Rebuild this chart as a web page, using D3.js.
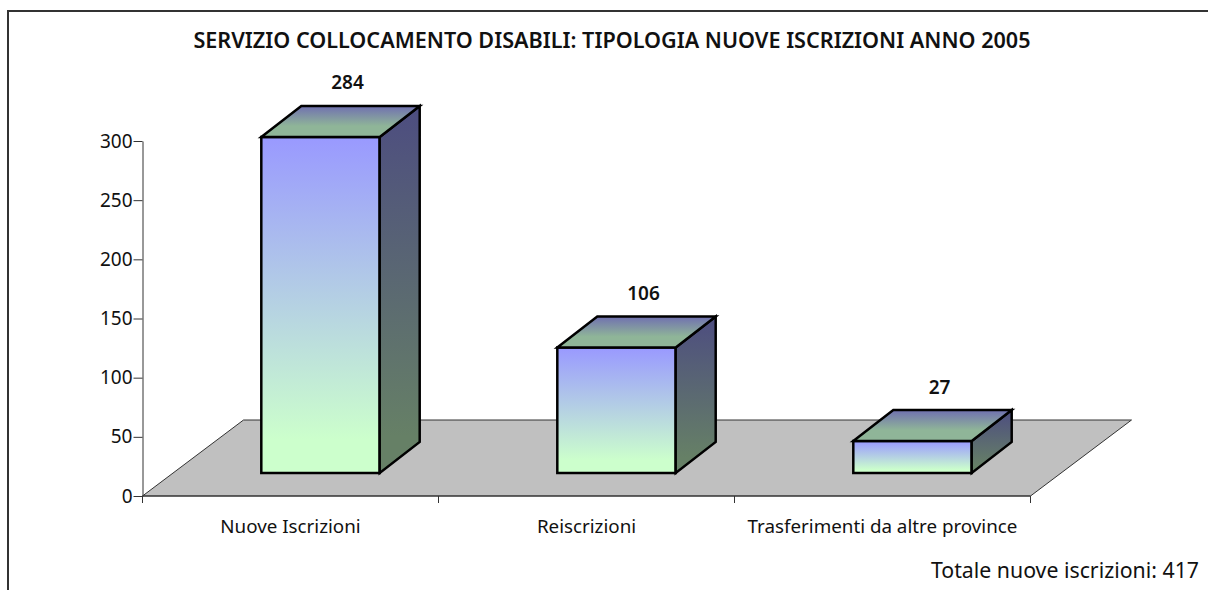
<!DOCTYPE html>
<html>
<head>
<meta charset="utf-8">
<script src="https://cdn.jsdelivr.net/npm/d3@7"></script>
<style>
    body { margin: 0; background: #fff; }
    svg { display: block; }
    text { font-family: "Noto Sans", sans-serif; fill: #111; }
    .axis path, .axis line { stroke: #333; }
</style>
</head>
<body>
<svg id="chart" width="1208" height="590"></svg>
<script>
const categories = ['Nuove Iscrizioni', 'Reiscrizioni', 'Trasferimenti da altre province'];
const values = [284, 106, 27];
const yTicks = [0, 50, 100, 150, 200, 250, 300];
const title = 'SERVIZIO COLLOCAMENTO DISABILI: TIPOLOGIA NUOVE ISCRIZIONI ANNO 2005';
const totalLabel = 'Totale nuove iscrizioni: 417';

const svg = d3.select('#chart');

// Plot box of the front edge of the floor
const plot = { left: 142.5, right: 1030.5, top: 141, bottom: 496 };
// Full depth of the floor, and how far the bars sit inside it
const floorDepth = { x: 101, y: -76 };
const barShift = { x: 30, y: -23 };
const barDepth = { x: 40, y: -31 };

const xScale = d3.scaleBand()
    .domain(categories)
    .range([plot.left, plot.right])
    .paddingInner(0.6)
    .paddingOuter(0.3);

const yScale = d3.scaleLinear()
    .domain([0, 300])
    .range([plot.bottom, plot.top]);

// Gradients for the three visible faces
function addGradient(id, stops) {
    const grad = svg.append('defs').append('linearGradient')
        .attr('id', id)
        .attr('x1', 0).attr('y1', 0).attr('x2', 0).attr('y2', 1);
    stops.forEach(s => grad.append('stop')
        .attr('offset', s[0])
        .attr('stop-color', s[1]));
}
addGradient('frontFace', [[0, '#9999ff'], [0.9, '#ccffcc'], [1, '#ccffcc']]);
addGradient('sideFace', [[0, '#4d4d80'], [0.9, '#668066'], [1, '#668066']]);
addGradient('topFace', [[0, '#7070b0'], [0.65, '#8fb598'], [1, '#8fb598']]);

// Outer frame, cut by the bottom of the picture
svg.append('path')
    .attr('d', d3.line()([[8, 590], [8, 11], [1208, 11]]))
    .attr('fill', 'none')
    .attr('stroke', '#333')
    .attr('stroke-width', 2);

// Floor
svg.append('path')
    .attr('d', d3.line()([
        [plot.left, plot.bottom],
        [plot.left + floorDepth.x, plot.bottom + floorDepth.y],
        [plot.right + floorDepth.x, plot.bottom + floorDepth.y],
        [plot.right, plot.bottom]
    ]) + 'Z')
    .attr('fill', '#c0c0c0')
    .attr('stroke', '#333')
    .attr('stroke-width', 1);

// Axes
const yAxis = d3.axisLeft(yScale).tickValues(yTicks).tickSize(9).tickSizeOuter(0).tickPadding(1);
const yAxisG = svg.append('g')
    .attr('class', 'axis')
    .attr('transform', `translate(${plot.left},0)`)
    .call(yAxis);
yAxisG.selectAll('text').style('font-size', '19px').style('font-family', '"Noto Sans", sans-serif');

const xAxisG = svg.append('g')
    .attr('class', 'axis')
    .attr('transform', `translate(0,${plot.bottom})`);
xAxisG.append('line')
    .attr('x1', plot.left).attr('x2', plot.right)
    .attr('stroke-width', 1.2);
const step = (plot.right - plot.left) / categories.length;
d3.range(categories.length + 1).forEach(i => {
    xAxisG.append('line')
        .attr('x1', plot.left + i * step).attr('x2', plot.left + i * step)
        .attr('y1', 0).attr('y2', 7);
});
xAxisG.selectAll('text.cat').data(categories).enter().append('text')
    .attr('class', 'cat')
    .attr('x', d => xScale(d) + xScale.bandwidth() / 2)
    .attr('y', 37)
    .attr('text-anchor', 'middle')
    .style('font-size', '18.8px')
    .text(d => d);

// Bars
const bars = svg.selectAll('g.bar')
    .data(categories.map((c, i) => ({ cat: c, val: values[i] })))
    .enter().append('g')
    .attr('class', 'bar')
    .attr('stroke', '#000')
    .attr('stroke-width', 2.5)
    .attr('stroke-linejoin', 'miter');

const barX0 = d => xScale(d.cat) + barShift.x;
const barX1 = d => barX0(d) + xScale.bandwidth();
const barY0 = () => plot.bottom + barShift.y;
const barY1 = d => barY0() - (plot.bottom - yScale(d.val));

bars.append('path')
    .attr('fill', 'url(#frontFace)')
    .attr('d', d => d3.line()([
        [barX0(d), barY1(d)], [barX1(d), barY1(d)], [barX1(d), barY0()], [barX0(d), barY0()]
    ]) + 'Z');
bars.append('path')
    .attr('fill', 'url(#sideFace)')
    .attr('d', d => d3.line()([
        [barX1(d), barY1(d)], [barX1(d) + barDepth.x, barY1(d) + barDepth.y],
        [barX1(d) + barDepth.x, barY0() + barDepth.y], [barX1(d), barY0()]
    ]) + 'Z');
bars.append('path')
    .attr('fill', 'url(#topFace)')
    .attr('d', d => d3.line()([
        [barX0(d), barY1(d)], [barX0(d) + barDepth.x, barY1(d) + barDepth.y],
        [barX1(d) + barDepth.x, barY1(d) + barDepth.y], [barX1(d), barY1(d)]
    ]) + 'Z');

// Value labels
svg.selectAll('text.val')
    .data(categories.map((c, i) => ({ cat: c, val: values[i] })))
    .enter().append('text')
    .attr('class', 'val')
    .attr('x', d => barX0(d) + xScale.bandwidth() / 2 + 27)
    .attr('y', d => barY1(d) + barDepth.y - 16.5)
    .attr('text-anchor', 'middle')
    .style('font-size', '19px')
    .style('font-weight', 600)
    .text(d => d.val);

// Title and total
svg.append('text')
    .attr('x', 612).attr('y', 48)
    .attr('text-anchor', 'middle')
    .style('font-size', '21.6px')
    .style('font-weight', 600)
    .text(title);
svg.append('text')
    .attr('x', 1199).attr('y', 578)
    .attr('text-anchor', 'end')
    .style('font-size', '21.3px')
    .text(totalLabel);
</script>
</body>
</html>
